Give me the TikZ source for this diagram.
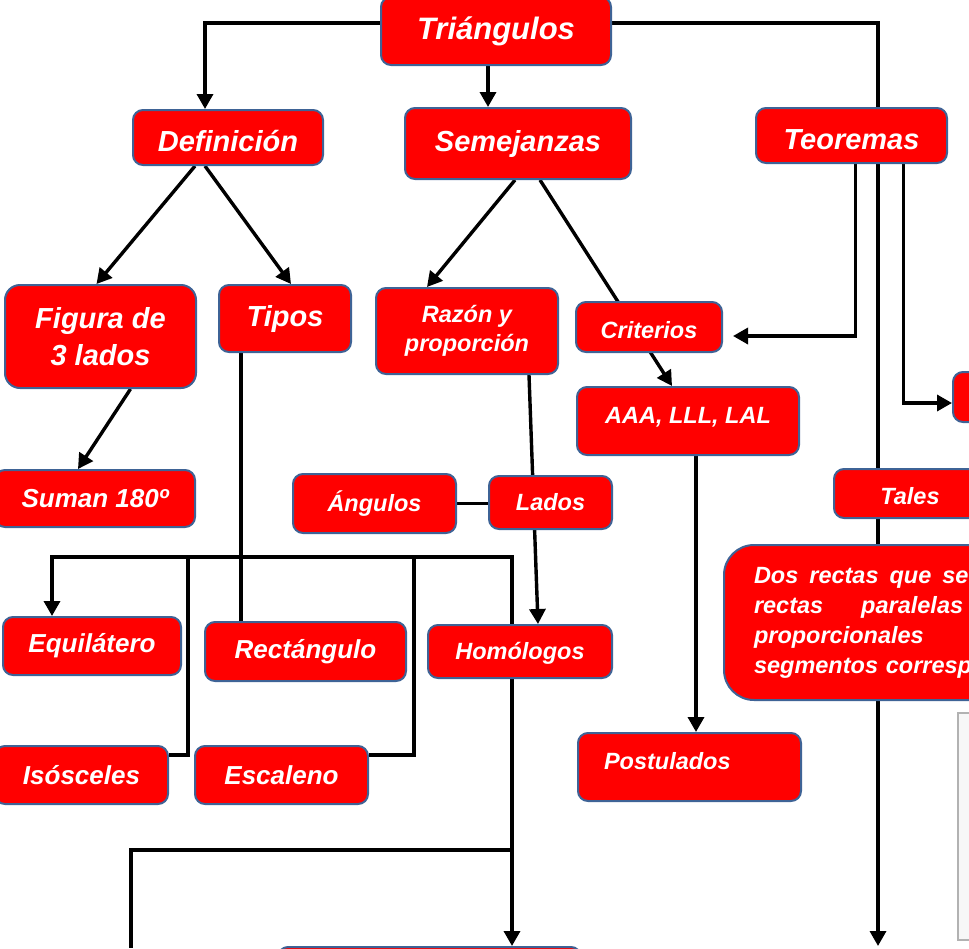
\documentclass[tikz,border=0pt]{standalone}
\usepackage{fontspec}
\setmainfont{Liberation Sans}
\usetikzlibrary{arrows.meta,backgrounds}
\definecolor{boxblue}{RGB}{62,99,150}
\newcommand{\subir}[2]{\raisebox{#1}[\height][\depth]{#2}}
\begin{document}
\begin{tikzpicture}[x=1pt, y=-1pt,
    box/.style={draw=boxblue, line width=2pt, fill=red, rounded corners=10pt,
                text=white, inner sep=0pt, align=center},
    big/.style={font=\bfseries\itshape\fontsize{29}{37}\selectfont},
    med/.style={font=\bfseries\itshape\fontsize{26}{32}\selectfont},
    sml/.style={font=\bfseries\itshape\fontsize{23.5}{29}\selectfont},
    link/.style={line width=3.4pt},
    arr/.style={link, -{Triangle[width=16pt,length=15pt]}},
    nota/.style={draw=gray!60, line width=1.5pt, fill=gray!6}]
  \useasboundingbox (0,0) rectangle (969,948);
  \clip (0,0) rectangle (969,948);

  \node[box, big, font=\bfseries\itshape\fontsize{31}{37}\selectfont,
        minimum width=230pt, minimum height=68pt] (tri) at (496,31) {Triángulos};
  \node[box, big, minimum width=190pt, minimum height=55pt] (def) at (228,137.5) {\subir{-4pt}{Definición}};
  \node[box, big, minimum width=226pt, minimum height=71pt] (sem) at (518,143.5) {Semejanzas};
  \node[box, big, minimum width=191pt, minimum height=55pt] (teo) at (851.5,135.5) {\subir{-4pt}{Teoremas}};
  \node[box, big, rounded corners=15pt, minimum width=191pt, minimum height=103pt]
    (fig) at (100.5,336.5) {Figura de\\3 lados};
  \node[box, big, minimum width=132pt, minimum height=67pt] (tip) at (285,318.5) {Tipos};
  \node[box, med, minimum width=200pt, minimum height=57pt] (sum) at (95,498.5) {Suman 180º};
  \node[box, sml, minimum width=182pt, minimum height=86pt] (raz) at (467,331) {Razón y\\proporción};
  \node[box, sml, minimum width=146pt, minimum height=50pt] (cri) at (649,327) {\subir{-3pt}{Criterios}};
  \node[box, sml, minimum width=222pt, minimum height=68pt] (aaa) at (688,421) {\subir{4pt}{AAA, LLL, LAL}};
  \node[box, sml, minimum width=163pt, minimum height=59pt] (ang) at (374.5,503.5) {Ángulos};
  \node[box, sml, minimum width=123pt, minimum height=53pt] (lad) at (550.5,502.5) {Lados};
  \node[box, med, minimum width=178pt, minimum height=58pt] (equ) at (92,646) {Equilátero};
  \node[box, med, minimum width=201pt, minimum height=59pt] (rec) at (305.5,651.5) {Rectángulo};
  \node[box, sml, minimum width=184pt, minimum height=53pt] (hom) at (520,651.5) {\subir{-2pt}{Homólogos}};
  \node[box, med, minimum width=173pt, minimum height=58pt] (iso) at (81.5,775) {Isósceles};
  \node[box, med, minimum width=173pt, minimum height=58pt] (esc) at (281.5,775) {Escaleno};
  \node[box, sml, align=left, inner xsep=26pt, text width=171pt, minimum height=68pt]
    (pos) at (689.5,767) {\subir{6pt}{Postulados}};
  \node[box, sml, minimum width=152pt, minimum height=49pt] (tal) at (910,493.5) {\subir{-3pt}{Tales}};
  \node[box, font=\bfseries\itshape\fontsize{23.5}{30}\selectfont, rounded corners=30pt,
        align=left, inner xsep=30pt, text width=300pt, minimum height=155pt, anchor=west]
    (dos) at (723,622.5) {Dos\hspace{11pt}rectas\hspace{11pt}que\hspace{11pt}se\\
                          rectas\hspace{38pt}paralelas\\
                          proporcionales\\
                          segmentos corresp};
  \node[box, minimum width=150pt, minimum height=50pt] (teo2) at (1028,397) {};
  \node[nota, minimum width=200pt, minimum height=227pt, anchor=north west] (cuadro) at (957,712) {};
  \node[box, minimum width=303pt, minimum height=60pt, anchor=north] (abajo) at (429.5,946) {};

  \coordinate (fin) at (878,946);
  \coordinate (izq) at (131,948);
  \coordinate (bar) at (241,557);
  \coordinate (cruce) at (512,850);

  \begin{scope}[on background layer]
    \clip (0,0) rectangle (969,948);
    \draw[arr] ([yshift=8pt]tri.west) -| ([xshift=-23pt]def.north);
    \draw[arr] ([xshift=-8pt]tri.south) -- ([xshift=-8pt]tri.south |- sem.north);
    \draw[arr] ([yshift=8pt]tri.east) -| (fin);
    \draw[arr] ([xshift=-33pt]def.south) -- ([xshift=-4pt]fig.north);
    \draw[arr] ([xshift=-23pt]def.south) -- ([xshift=6pt]tip.north);
    \draw[arr] ([xshift=30pt]fig.south) -- ([xshift=-17pt]sum.north);
    \draw[arr] ([xshift=-3pt]sem.south) -- ([xshift=-40pt]raz.north);
    \draw[arr] ([xshift=22pt]sem.south) -- ([xshift=-16pt]aaa.north);
    \draw[arr] ([xshift=4pt]teo.south) |- ([xshift=10pt,yshift=-9pt]cri.east);
    \draw[arr] ([xshift=52pt]teo.south) |- ([yshift=-6pt]teo2.west);
    \draw[link] ([xshift=-44pt]tip.south) -- ([xshift=-44pt]tip.south |- rec.north);
    \draw[arr] (bar) -| ([xshift=-40pt]equ.north);
    \draw[link] (bar) -| ([xshift=-8pt]hom.north);
    \draw[link] ([xshift=-53pt]bar) |- ([yshift=20pt]iso.east);
    \draw[link] ([xshift=173pt]bar) |- ([yshift=20pt]esc.east);
    \draw[link] (ang.east) -- (ang.east -| lad.west);
    \draw[arr] ([xshift=62pt]raz.south) -- ([xshift=18pt]hom.north);
    \draw[arr] ([xshift=8pt]aaa.south) -- ([xshift=8pt]aaa.south |- pos.north);
    \draw[arr] ([xshift=-8pt]hom.south) -- ([xshift=-8pt]hom.south |- abajo.north);
    \draw[link] (cruce) -| (izq);
  \end{scope}
\end{tikzpicture}
\end{document}
